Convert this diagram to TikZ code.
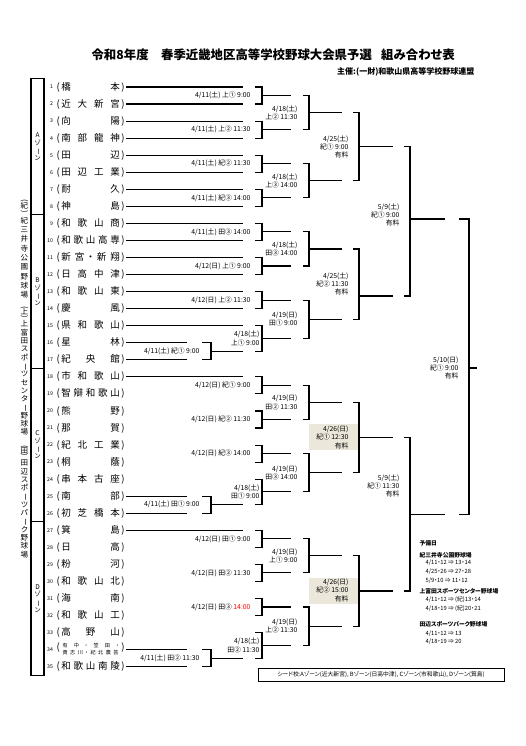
\documentclass[tikz,border=0pt]{standalone}
\usepackage{fontspec}
\usepackage{graphicx}
\setmainfont{Noto Sans CJK JP}[RawFeature=+palt]
\usetikzlibrary{positioning}

\definecolor{finalbg}{RGB}{235,231,219}

% bracket: name, vertical x, stub, top y, bottom y, output y, output end x
\newcommand{\bkt}[7]{%
	\draw (#2-#3,#4) -| (#2,#5) -- (#2-#3,#5);
	\coordinate (#1) at (#7,#6);
	\draw (#2,#6) -- (#1);
}
\newcommand{\vopen}{\rotatebox[origin=c]{-90}{(}}
\newcommand{\vclose}{\rotatebox[origin=c]{-90}{)}}
\newcommand{\vbar}{\rotatebox[origin=c]{-90}{ー}}
\newcommand{\rengo}{{\fontsize{5.1}{7.4}\selectfont\begin{tabular}{@{}c@{}}\makebox[56pt]{有\hfill 中\hfill ・\hfill 笠\hfill 田\hfill ・}\\\makebox[56pt]{貴\hfill 志\hfill 川\hfill ・\hfill 紀\hfill 北\hfill 農\hfill 芸}\end{tabular}}}

\begin{document}
\begin{tikzpicture}[x=1pt, y=-1pt, line width=1.1pt,
		num/.style={anchor=east, inner sep=0pt, font=\fontsize{5.2}{6}\selectfont},
		team/.style={anchor=west, inner xsep=1pt, inner ysep=0pt, font=\fontsize{9.5}{11}\selectfont},
		lbl/.style={anchor=east, inner sep=0pt, align=right, font=\fontsize{6.8}{8.2}\selectfont},
		zone/.style={inner sep=0pt, align=center, font=\fontsize{6.5}{7.7}\selectfont},
		venue/.style={inner sep=0pt, align=center, font=\fontsize{7.5}{8.3}\selectfont},
		note/.style={anchor=west, inner sep=0pt, font=\fontsize{5.8}{7}\selectfont}]
	\fill[white] (0,0) rectangle (526,746);
	\useasboundingbox (0,0) rectangle (526,746);

	% title
	\node[anchor=west, inner sep=0pt, font=\fontsize{12.4}{14}\selectfont\bfseries] (title) at (91,55)
		{令和8年度\hspace{1em}春季近畿地区高等学校野球大会県予選\hspace{0.75em}組み合わせ表};
	\node[anchor=east, inner sep=0pt, font=\fontsize{8}{9}\selectfont\bfseries] (org) at (475,72)
		{主催:(一財)和歌山県高等学校野球連盟};

	% venues and zones
	\node[venue, font=\fontsize{7.5}{9.3}\selectfont] (v1) at (24.5,249)
		{\vopen\\[-4pt]紀\\[-4pt]\vclose\\紀\\三\\井\\寺\\公\\園\\野\\球\\場};
	\node[venue] (v2) at (24.5,371)
		{\vopen\\[-4pt]上\\[-4pt]\vclose\\上\\富\\田\\ス\\ポ\\\vbar\\ツ\\セ\\ン\\タ\\\vbar\\野\\球\\場};
	\node[venue] (v3) at (24.5,501.5)
		{\vopen\\[-4pt]田\\[-4pt]\vclose\\田\\辺\\ス\\ポ\\\vbar\\ツ\\パ\\\vbar\\ク\\野\\球\\場};
	\draw (31,78.5) rectangle (44,675.2);
	\foreach \yy in {214.9,368.3,521.8}
		\draw (31,\yy) -- (44,\yy);
	\node[zone] (za) at (37.5,146.7) {A\\ゾ\\\vbar\\ン};
	\node[zone] (zb) at (37.5,291.6) {B\\ゾ\\\vbar\\ン};
	\node[zone] (zc) at (37.5,445.05) {C\\ゾ\\\vbar\\ン};
	\node[zone] (zd) at (37.5,598.5) {D\\ゾ\\\vbar\\ン};

	% teams
	\foreach \n/\nm in {1/橋\hfill 本, 2/近\hfill 大\hfill 新\hfill 宮, 3/向\hfill 陽,
			4/南\hfill 部\hfill 龍\hfill 神, 5/田\hfill 辺, 6/田\hfill 辺\hfill 工\hfill 業,
			7/耐\hfill 久, 8/神\hfill 島, 9/和\hfill 歌\hfill 山\hfill 商,
			10/和\hfill 歌\hfill 山\hfill 高\hfill 専, 11/新\hfill 宮\hfill ・\hfill 新\hfill 翔,
			12/日\hfill 高\hfill 中\hfill 津, 13/和\hfill 歌\hfill 山\hfill 東, 14/慶\hfill 風,
			15/県\hfill 和\hfill 歌\hfill 山, 16/星\hfill 林, 17/紀\hfill 央\hfill 館,
			18/市\hfill 和\hfill 歌\hfill 山, 19/智\hfill 辯\hfill 和\hfill 歌\hfill 山,
			20/熊\hfill 野, 21/那\hfill 賀, 22/紀\hfill 北\hfill 工\hfill 業, 23/桐\hfill 蔭,
			24/串\hfill 本\hfill 古\hfill 座, 25/南\hfill 部, 26/初\hfill 芝\hfill 橋\hfill 本,
			27/箕\hfill 島, 28/日\hfill 高, 29/粉\hfill 河, 30/和\hfill 歌\hfill 山\hfill 北,
			31/海\hfill 南, 32/和\hfill 歌\hfill 山\hfill 工, 33/高\hfill 野\hfill 山,
			34/\rengo, 35/和\hfill 歌\hfill 山\hfill 南\hfill 陵} {
		\pgfmathsetmacro{\y}{87+(\n-1)*17.05}
		\node[num] (n\n) at (53.5,\y) {\n};
		\node[team] (t\n) at (55,\y) {(\,\makebox[58.5pt]{\nm}\,)};
	}
	\foreach \n in {1,...,15,18,...,24,27,...,33} {
		\pgfmathsetmacro{\y}{87+(\n-1)*17.05}
		\draw (t\n.east) -- (243,\y);
	}
	\foreach \n in {16,17,25,26,34,35} {
		\pgfmathsetmacro{\y}{87+(\n-1)*17.05}
		\draw (t\n.east) -- (187,\y);
	}

	% shaded zone finals
	\fill[finalbg] (309,424) rectangle (358,450);
	\fill[finalbg] (309,578) rectangle (358,604);

	% brackets
	\foreach \a/\b/\c [count=\k] in {342.75/359.8/351.3, 496.2/513.25/504.7, 649.65/666.7/658.2}
		\bkt{p\k}{211}{9}{\a}{\b}{\c}{243};
	\foreach \a/\b/\c [count=\k] in {87/104.05/95.5, 121.1/138.15/129.6, 155.2/172.25/163.7,
			189.3/206.35/197.8, 223.4/240.45/231.9, 257.5/274.55/266.0, 291.6/308.65/300.1,
			325.7/351.3/338.5, 376.85/393.9/385.4, 410.95/428/419.5, 445.05/462.1/453.6,
			479.15/504.7/491.9, 530.3/547.35/538.8, 564.4/581.45/572.9, 598.5/615.55/607.0,
			632.6/658.2/645.4}
		\bkt{ra\k}{262}{7}{\a}{\b}{\c}{291};
	\foreach \a/\b/\c [count=\k] in {95.5/129.6/112.6, 163.7/197.8/180.8, 231.9/266.0/249.0,
			300.1/338.5/319.3, 385.4/419.5/402.5, 453.6/491.9/472.8, 538.8/572.9/555.9,
			607.0/645.4/626.2}
		\bkt{rb\k}{309}{6}{\a}{\b}{\c}{342};
	\foreach \a/\b/\c [count=\k] in {112.6/180.8/146.7, 249.0/319.3/296, 402.5/472.8/437.6,
			555.9/626.2/591.0}
		\bkt{rc\k}{359}{6}{\a}{\b}{\c}{393};
	\bkt{sf1}{410}{6}{146.7}{296}{219}{445}
	\bkt{sf2}{410}{6}{437.6}{591.0}{514.3}{445}
	\bkt{fin}{469}{10}{219}{514.3}{368}{477}

	% first round
	\node[lbl] (g1) at (251,95.5) {4/11(土) 上① 9:00};
	\node[lbl] (g2) at (251,129.6) {4/11(土) 上② 11:30};
	\node[lbl] (g3) at (251,163.7) {4/11(土) 紀② 11:30};
	\node[lbl] (g4) at (251,197.8) {4/11(土) 紀③ 14:00};
	\node[lbl] (g5) at (251,231.9) {4/11(土) 田③ 14:00};
	\node[lbl] (g6) at (251,266.0) {4/12(日) 上① 9:00};
	\node[lbl] (g7) at (251,300.1) {4/12(日) 上② 11:30};
	\node[lbl] (g8) at (260,338.5) {4/18(土)\\上① 9:00};
	\node[lbl] (g9) at (251,385.4) {4/12(日) 紀① 9:00};
	\node[lbl] (g10) at (251,419.5) {4/12(日) 紀② 11:30};
	\node[lbl] (g11) at (251,453.6) {4/12(日) 紀③ 14:00};
	\node[lbl] (g12) at (260,491.9) {4/18(土)\\田① 9:00};
	\node[lbl] (g13) at (251,538.8) {4/12(日) 田① 9:00};
	\node[lbl] (g14) at (251,572.9) {4/12(日) 田② 11:30};
	\node[lbl] (g15) at (251,607.0) {4/12(日) 田③ \textcolor{red}{14:00}};
	\node[lbl] (g16) at (260,645.4) {4/18(土)\\田② 11:30};
	\node[lbl] (q1) at (200,351.3) {4/11(土) 紀① 9:00};
	\node[lbl] (q2) at (200,504.7) {4/11(土) 田① 9:00};
	\node[lbl] (q3) at (200,658.2) {4/11(土) 田② 11:30};

	% second round
	\node[lbl] (h1) at (298,112.6) {4/18(土)\\上② 11:30};
	\node[lbl] (h2) at (298,180.8) {4/18(土)\\上③ 14:00};
	\node[lbl] (h3) at (298,249.0) {4/18(土)\\田③ 14:00};
	\node[lbl] (h4) at (298,319.3) {4/19(日)\\田① 9:00};
	\node[lbl] (h5) at (298,402.5) {4/19(日)\\田② 11:30};
	\node[lbl] (h6) at (298,472.8) {4/19(日)\\田③ 14:00};
	\node[lbl] (h7) at (298,555.9) {4/19(日)\\上① 9:00};
	\node[lbl] (h8) at (298,626.2) {4/19(日)\\上② 11:30};

	% zone finals, semifinals, final
	\node[lbl] (k1) at (349,146.7) {4/25(土)\\紀① 9:00\\有料};
	\node[lbl] (k2) at (349,284.2) {4/25(土)\\紀② 11:30\\有料};
	\node[lbl] (k3) at (349,437.3) {4/26(日)\\紀① 12:30\\有料};
	\node[lbl] (k4) at (349,590.3) {4/26(日)\\紀② 15:00\\有料};
	\node[lbl] (s1) at (400,215) {5/9(土)\\紀① 9:00\\有料};
	\node[lbl] (s2) at (400,486) {5/9(土)\\紀① 11:30\\有料};
	\node[lbl] (f1) at (459,368) {5/10(日)\\紀① 9:00\\有料};

	% spare days
	\node[note] (y0) at (419,543) {\bfseries 予備日};
	\node[note] (y1) at (419,555) {\bfseries 紀三井寺公園野球場};
	\node[note] (y2) at (425,562.5) {4/11・12 ⇒ 13・14};
	\node[note] (y3) at (425,571.7) {4/25・26 ⇒ 27・28};
	\node[note] (y4) at (425,581) {5/9・10 ⇒ 11・12};
	\node[note] (y5) at (419,591.7) {\bfseries 上富田スポーツセンター野球場};
	\node[note] (y6) at (425,599.5) {4/11・12 ⇒ (紀)13・14};
	\node[note] (y7) at (425,608.5) {4/18・19 ⇒ (紀)20・21};
	\node[note] (y8) at (419,624) {\bfseries 田辺スポーツパーク野球場};
	\node[note] (y9) at (425,633.3) {4/11・12 ⇒ 13};
	\node[note] (y10) at (425,641.7) {4/18・19 ⇒ 20};

	% seeds
	\node[draw, line width=0.9pt, minimum width=246pt, minimum height=13pt, inner sep=0pt,
		font=\fontsize{5.8}{7}\selectfont] (seed) at (381,674.5)
		{シード校:Aゾーン(近大新宮), Bゾーン(日高中津), Cゾーン(市和歌山), Dゾーン(箕島)};
\end{tikzpicture}
\end{document}
